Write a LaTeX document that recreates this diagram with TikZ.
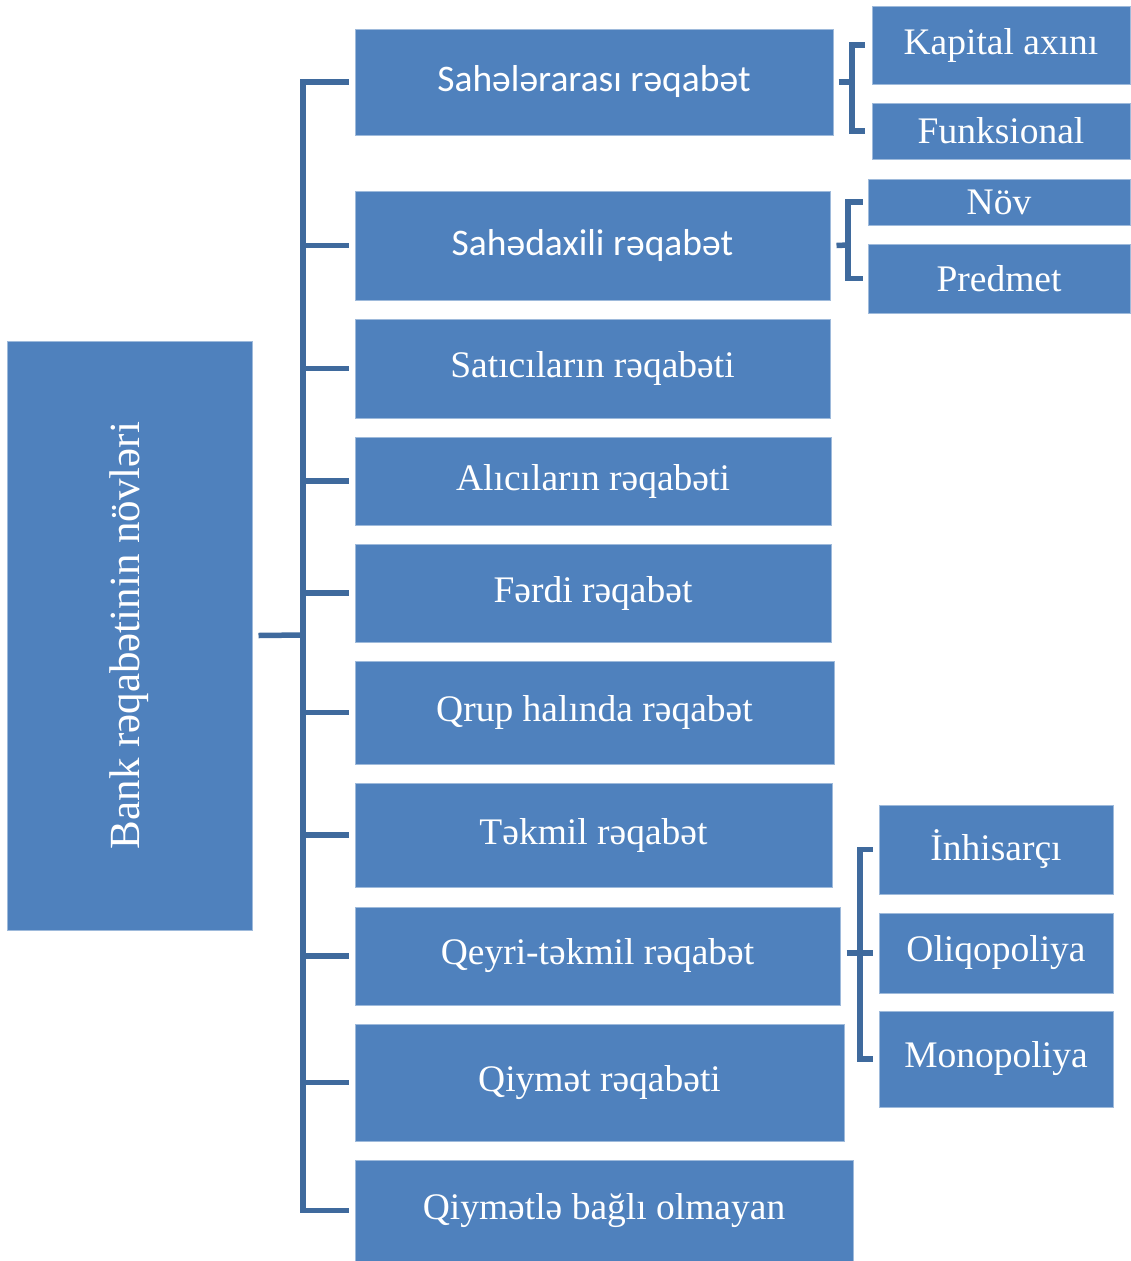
\documentclass[tikz,border=0pt]{standalone}
\usepackage{fontspec}
\setmainfont{Liberation Serif}
\newfontfamily\calib{Carlito}
\definecolor{boxblue}{HTML}{4F81BD}
\definecolor{linecol}{HTML}{3F6A9D}
\begin{document}
\begin{tikzpicture}[x=1pt,y=-1pt,
  box/.style={fill=boxblue,draw=boxblue!55!white,line width=1pt,inner sep=0pt,text=white,align=center,font=\fontsize{37.5}{44}\selectfont},
  sbox/.style={box,font=\calib\fontsize{37.5}{44}\selectfont},
  conn/.style={draw=linecol,line width=5.5pt}]
\useasboundingbox (0,0) rectangle (1130,1261);
\node[box,minimum width=245pt,minimum height=589pt,font=\fontsize{43}{50}\selectfont] (main) at (129.5,635.5) {\rotatebox{90}{Bank rəqabətinin növləri}};
\node[sbox,minimum width=478pt,minimum height=106pt] (b1) at (594,82) {Sahələrarası rəqabət};
\node[sbox,minimum width=475pt,minimum height=109pt] (b2) at (592.5,245.5) {Sahədaxili rəqabət};
\node[box,minimum width=475pt,minimum height=99pt] (b3) at (592.5,368.5) {Satıcıların rəqabəti};
\node[box,minimum width=476pt,minimum height=88pt] (b4) at (593,481) {Alıcıların rəqabəti};
\node[box,minimum width=476pt,minimum height=98pt] (b5) at (593,593) {Fərdi rəqabət};
\node[box,minimum width=479pt,minimum height=103pt] (b6) at (594.5,712.5) {Qrup halında rəqabət};
\node[box,minimum width=477pt,minimum height=104pt] (b7) at (593.5,835) {Təkmil rəqabət};
\node[box,minimum width=485pt,minimum height=98pt] (b8) at (597.5,956) {Qeyri-təkmil rəqabət};
\node[box,minimum width=489pt,minimum height=117pt] (b9) at (599.5,1082.5) {Qiymət rəqabəti};
\node[box,minimum width=498pt,minimum height=101pt] (b10) at (604,1210.5) {Qiymətlə bağlı olmayan};
\node[box,minimum width=258pt,minimum height=78pt] (k1) at (1001,45) {Kapital axını};
\node[box,minimum width=258pt,minimum height=56pt] (k2) at (1001,131) {Funksional};
\node[box,minimum width=262pt,minimum height=46pt] (n1) at (999,202) {Növ};
\node[box,minimum width=262pt,minimum height=69pt] (n2) at (999,278.5) {Predmet};
\node[box,minimum width=234pt,minimum height=89pt] (i1) at (996,849.5) {İnhisarçı};
\node[box,minimum width=234pt,minimum height=80pt] (i2) at (996,953) {Oliqopoliya};
\node[box,minimum width=234pt,minimum height=96pt] (i3) at (996,1059) {Monopoliya};
% trunk
\coordinate (tr) at (303,635);
\draw[conn] ([xshift=-6pt]b1.west) -| (tr) |- ([xshift=-6pt]b10.west);
\foreach \b in {b2,b3,b4,b5,b6,b7,b8,b9}
  \draw[conn] (tr |- \b.west) -- ([xshift=-6pt]\b.west);
\draw[conn] ([xshift=6pt]main.east) -- (tr);
% bracket 1
\coordinate (v1) at (852,82);
\draw[conn] ([xshift=-7pt]k1.west) -| (v1) |- ([xshift=-7pt]k2.west);
\draw[conn] ([xshift=5pt]b1.east) -- (v1);
% bracket 2
\coordinate (v2) at (848,245);
\draw[conn] ([xshift=-5pt]n1.west) -| (v2) |- ([xshift=-5pt]n2.west);
\draw[conn] ([xshift=6pt]b2.east) -- (v2);
% bracket 3
\coordinate (v3) at (860,953);
\draw[conn] ([xshift=-6pt]i1.west) -| (v3) |- ([xshift=-6pt]i3.west);
\draw[conn] ([xshift=-32pt]i2.west) -- ([xshift=-6pt]i2.west);
\end{tikzpicture}
\end{document}
